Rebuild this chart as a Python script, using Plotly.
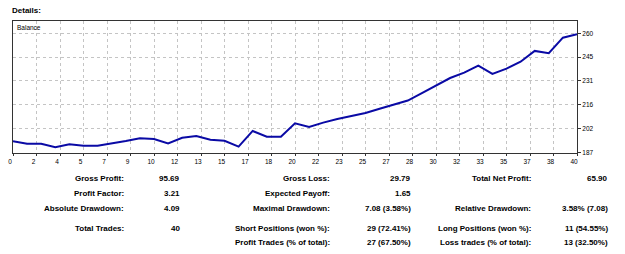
import plotly.graph_objects as go

# ---- data ----
trades = list(range(0, 41))
balance = [193.9, 192.4, 192.4, 190.2, 192.0, 191.2, 191.2, 192.5, 194.0, 195.7,
           195.3, 192.6, 196.0, 197.1, 194.8, 194.2, 190.6, 200.2, 196.7, 196.7,
           204.9, 202.6, 205.3, 207.5, 209.4, 211.2, 213.8, 216.1, 218.8, 223.4,
           228.0, 232.6, 235.9, 240.2, 235.1, 238.3, 242.6, 249.2, 247.8, 257.3,
           259.4]
x_tick_labels = ["0", "2", "4", "5", "7", "9", "10", "12", "13", "15", "17", "18", "20",
                 "22", "23", "25", "27", "28", "30", "32", "33", "35", "37", "38", "40"]
y_tick_vals = [187, 201.6, 216.2, 230.8, 245.4, 260]
y_tick_labels = ["187", "202", "216", "231", "245", "260"]

col1_labels = ["Gross Profit:", "Profit Factor:", "Absolute Drawdown:", "Total Trades:", ""]
col1_values = ["95.69", "3.21", "4.09", "40", ""]
col2_labels = ["Gross Loss:", "Expected Payoff:", "Maximal Drawdown:",
               "Short Positions (won %):", "Profit Trades (% of total):"]
col2_values = ["29.79", "1.65", "7.08 (3.58%)", "29 (72.41%)", "27 (67.50%)"]
col3_labels = ["Total Net Profit:", "", "Relative Drawdown:",
               "Long Positions (won %):", "Loss trades (% of total):"]
col3_values = ["65.90", "", "3.58% (7.08)", "11 (54.55%)", "13 (32.50%)"]

# ---- layout geometry ----
W, H = 625, 254
L, R, T, B = 8, 48, 21, 101
PW, PH = W - L - R, H - T - B


def px(xp):
    return (xp - L) / PW


def py(yp):
    return (H - B - yp) / PH


n_int = len(x_tick_labels) - 1
x_tick_vals = [k * 40 / n_int for k in range(n_int + 1)]

fig = go.Figure()
fig.add_trace(go.Scatter(x=trades, y=balance, mode="lines",
                         line=dict(color="#0a0aa5", width=2), hoverinfo="skip"))

tick_font = dict(family="Liberation Sans, Arial, sans-serif", size=6.5, color="#000")
fig.update_layout(
    width=W, height=H, margin=dict(l=L, r=R, t=T, b=B, pad=0),
    paper_bgcolor="white", plot_bgcolor="white", showlegend=False,
    xaxis=dict(range=[0, 40], tickvals=x_tick_vals, ticktext=x_tick_labels,
               showgrid=True, gridcolor="#c4c4c4", griddash="3px,3px", gridwidth=1,
               showline=True, linecolor="#333", linewidth=1, mirror=True,
               ticks="outside", ticklen=2, tickcolor="#333", tickfont=tick_font,
               ticklabelshift=-3, zeroline=False, fixedrange=True),
    yaxis=dict(range=[186.7, 267.5], tickvals=y_tick_vals, ticktext=y_tick_labels,
               side="right", showgrid=True, gridcolor="#c4c4c4", griddash="3px,3px",
               gridwidth=1, showline=True, linecolor="#333", linewidth=1, mirror=True,
               ticks="outside", ticklen=3, tickcolor="#333", tickfont=tick_font,
               zeroline=False, fixedrange=True),
)

ann = []
bold = dict(family="Liberation Sans, Arial, sans-serif", size=8, color="#000")
ann.append(dict(text="<b>Details:</b>", x=px(5), y=py(10), xref="paper", yref="paper",
                xanchor="left", yanchor="middle", showarrow=False, font=bold))
ann.append(dict(text="Balance", x=px(10.5), y=py(28), xref="paper", yref="paper",
                xanchor="left", yanchor="middle", showarrow=False,
                font=dict(family="Liberation Sans, Arial, sans-serif", size=6.5, color="#000")))

row_y = [178, 193, 208, 228.5, 243]
cols = [(122, col1_labels), (178.5, col1_values), (329.5, col2_labels),
        (411.5, col2_values), (532.5, col3_labels), (610, col3_values)]
for xr, texts in cols:
    for yy, t in zip(row_y, texts):
        if not t:
            continue
        ann.append(dict(text="<b>" + t + "</b>", x=px(xr), y=py(yy), xref="paper",
                        yref="paper", xanchor="right", yanchor="middle",
                        showarrow=False, font=bold))
fig.update_layout(annotations=ann)

fig.write_html("out.html")
